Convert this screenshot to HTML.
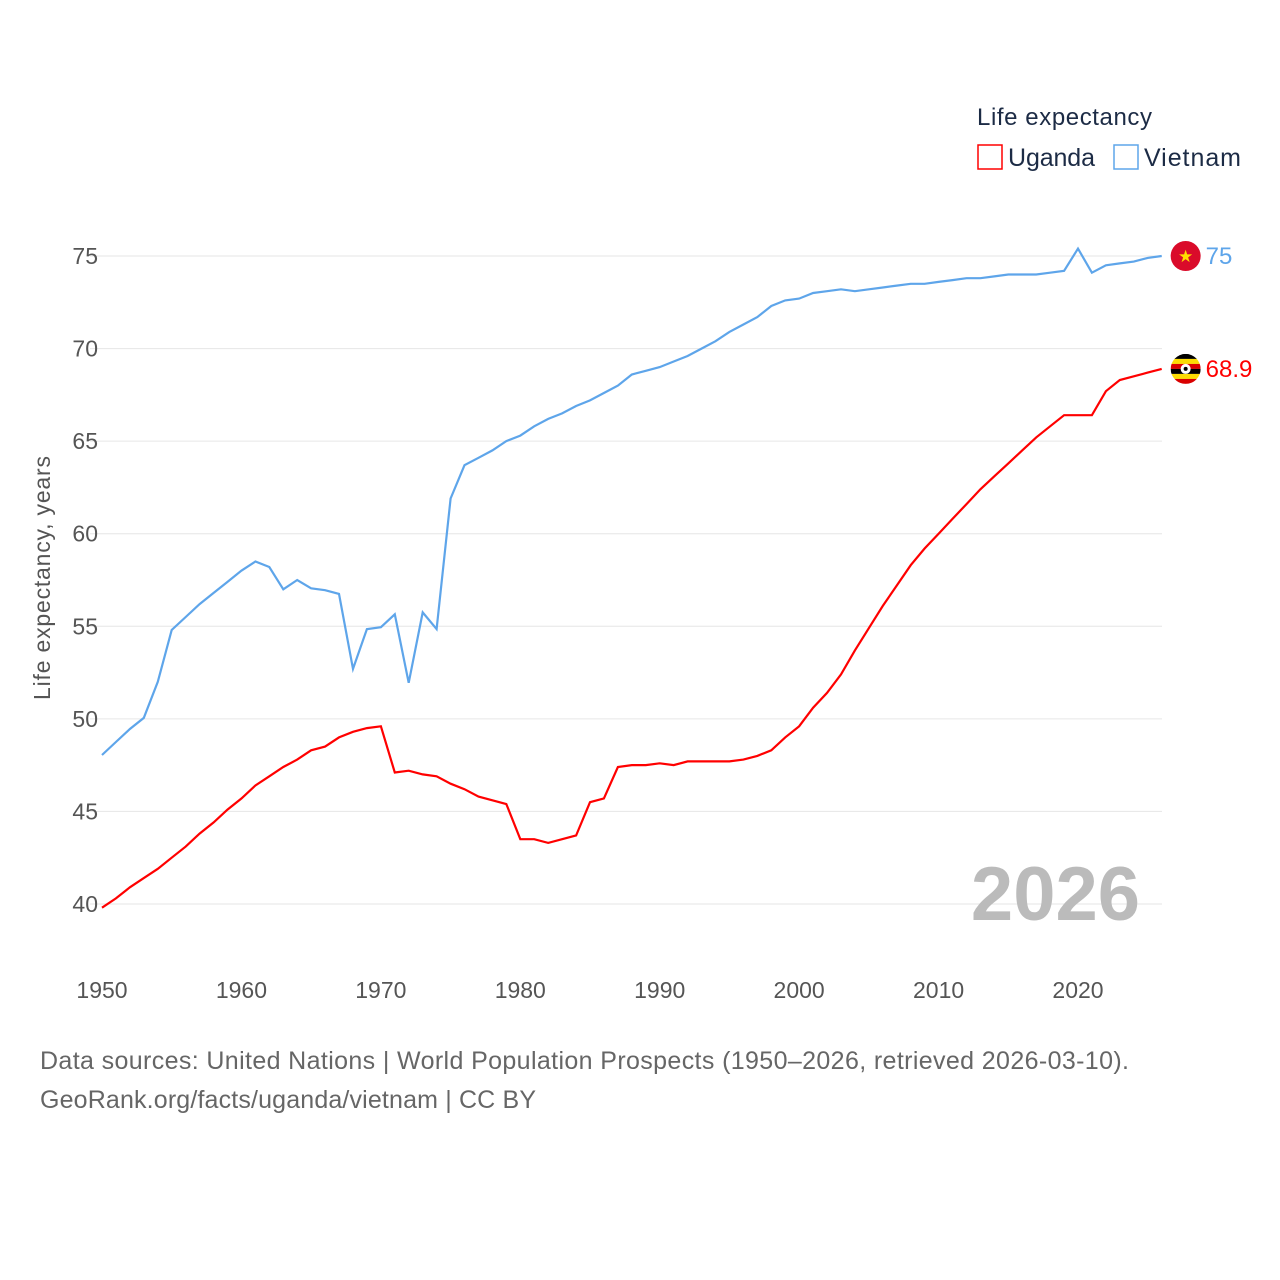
<!DOCTYPE html>
<html><head><meta charset="utf-8"><style>
body{margin:0;background:#fff;}
svg{display:block;font-family:"Liberation Sans",sans-serif;}
</style></head><body>
<svg width="1280" height="1280" viewBox="0 0 1280 1280" id="chart">
<g id="grid"></g>
<g id="yticks"></g>
<g id="xticks"></g>
<text x="50" y="578" transform="rotate(-90 50 578)" text-anchor="middle" font-size="23" textLength="244" fill="#555">Life expectancy, years</text>
<text x="1140" y="920" text-anchor="end" font-size="76" font-weight="bold" fill="#bbb">2026</text>
<g>
<text x="977" y="125" font-size="24" textLength="175" fill="#1c2b45">Life expectancy</text>
<g><rect x="978" y="145" width="24" height="24" fill="none" stroke="#f00" stroke-width="1.5"/><text x="1008" y="166" font-size="25" textLength="87" fill="#1c2b45">Uganda</text></g>
<g><rect x="1114" y="145" width="24" height="24" fill="none" stroke="#5ea5ea" stroke-width="1.5"/><text x="1144" y="166" font-size="25" textLength="97" fill="#1c2b45">Vietnam</text></g>
</g>
<path id="lineV" fill="none" stroke="#5ea5ea" stroke-width="2.2"/>
<path id="lineU" fill="none" stroke="#f00" stroke-width="2.2"/>
<g id="ends"></g>
<text x="40" y="1069" font-size="25" textLength="1089" fill="#666">Data sources: United Nations | World Population Prospects (1950–2026, retrieved 2026-03-10).</text>
<text x="40" y="1108" font-size="25" textLength="496" fill="#666">GeoRank.org/facts/uganda/vietnam | CC BY</text>
</svg>
<script>
const startYear = 1950;
const yTicks = [40,45,50,55,60,65,70,75];
const xTicks = [1950,1960,1970,1980,1990,2000,2010,2020];
const vietnam = [48.05,48.75,49.45,50.05,52.0,54.8,55.5,56.2,56.8,57.4,58.0,58.5,58.2,57.0,57.5,57.05,56.95,56.75,52.7,54.85,54.95,55.65,51.95,55.75,54.85,61.9,63.7,64.1,64.5,65.0,65.3,65.8,66.2,66.5,66.9,67.2,67.6,68.0,68.6,68.8,69.0,69.3,69.6,70.0,70.4,70.9,71.3,71.7,72.3,72.6,72.7,73.0,73.1,73.2,73.1,73.2,73.3,73.4,73.5,73.5,73.6,73.7,73.8,73.8,73.9,74.0,74.0,74.0,74.1,74.2,75.4,74.1,74.5,74.6,74.7,74.9,75.0];
const uganda = [39.8,40.3,40.9,41.4,41.9,42.5,43.1,43.8,44.4,45.1,45.7,46.4,46.9,47.4,47.8,48.3,48.5,49.0,49.3,49.5,49.6,47.1,47.2,47.0,46.9,46.5,46.2,45.8,45.6,45.4,43.5,43.5,43.3,43.5,43.7,45.5,45.7,47.4,47.5,47.5,47.6,47.5,47.7,47.7,47.7,47.7,47.8,48.0,48.3,49.0,49.6,50.6,51.4,52.4,53.7,54.9,56.1,57.2,58.3,59.2,60.0,60.8,61.6,62.4,63.1,63.8,64.5,65.2,65.8,66.4,66.4,66.4,67.7,68.3,68.5,68.7,68.9];
const NS='http://www.w3.org/2000/svg';
const x = yr => 102 + (yr-1950)*(976/70);
const y = v => 256 + (75-v)*(648/35);
function mk(tag, attrs, parent){const e=document.createElementNS(NS,tag);for(const k in attrs)e.setAttribute(k,attrs[k]);parent.appendChild(e);return e;}
const grid=document.getElementById('grid'), yt=document.getElementById('yticks'), xt=document.getElementById('xticks');
yTicks.forEach(t=>{
  const l=mk('line',{x1:90,x2:1162,y1:y(t),y2:y(t),stroke:'#e6e6e6','stroke-width':1},grid);
  
  
  const tx=mk('text',{x:98,y:y(t)+8,'text-anchor':'end','font-size':23,fill:'#555'},yt);
  tx.textContent=t;
  
  
});
xTicks.forEach(t=>{
  const tx=mk('text',{x:x(t),y:998,'text-anchor':'middle','font-size':23,fill:'#555'},xt);
  tx.textContent=t;
  
  
});
function path(arr){return arr.map((v,i)=>(i?'L':'M')+x(startYear+i).toFixed(1)+','+y(v).toFixed(1)).join('');}
document.getElementById('lineV').setAttribute('d',path(vietnam));
document.getElementById('lineU').setAttribute('d',path(uganda));
const ends=document.getElementById('ends');
const lastYr=startYear+vietnam.length-1;
const vl=vietnam[vietnam.length-1], ul=uganda[uganda.length-1];
const cx=x(lastYr)+24;
const fv=mk('g',{},ends);


mk('circle',{cx:cx,cy:y(vl),r:15,fill:'#da0b2a'},fv);
mk('text',{x:cx,y:y(vl)+6,'text-anchor':'middle','font-size':17,fill:'#ffde00'},fv).textContent='★';
const tv=mk('text',{x:cx+20,y:y(vl)+8,'font-size':24,fill:'#5ea5ea'},ends);
tv.textContent=String(vl).replace(/\.0$/,'');


const fu=mk('g',{},ends);


const cp=mk('clipPath',{id:'uc'},fu);mk('circle',{cx:cx,cy:y(ul),r:15},cp);
const cols=['#000','#fcdc04','#d90000','#000','#fcdc04','#d90000'];
cols.forEach((c,i)=>mk('rect',{x:cx-15,y:y(ul)-15+i*5,width:30,height:5,fill:c,'clip-path':'url(#uc)'},fu));
mk('circle',{cx:cx,cy:y(ul),r:5,fill:'#fff'},fu);
mk('circle',{cx:cx,cy:y(ul),r:2,fill:'#000'},fu);
const tu=mk('text',{x:cx+20,y:y(ul)+8,'font-size':24,fill:'#f00'},ends);
tu.textContent=ul.toFixed(1);


</script>
</body></html>
